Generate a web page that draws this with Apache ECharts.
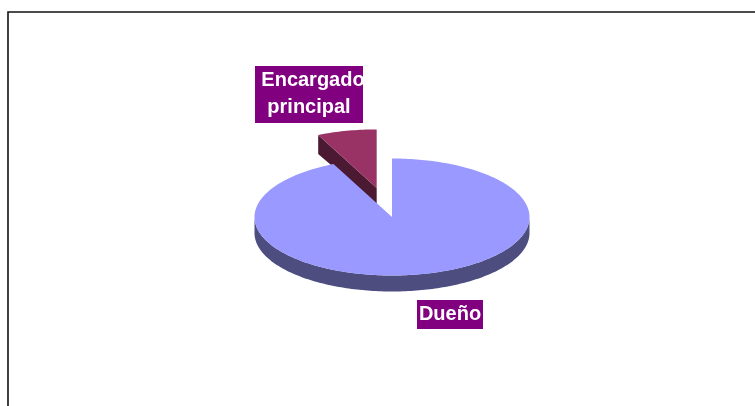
<!DOCTYPE html>
<html>
<head>
<meta charset="utf-8">
<style>
  html, body { margin: 0; padding: 0; background: #fff; }
  #main { width: 755px; height: 406px; }
</style>
<script src="https://cdn.jsdelivr.net/npm/echarts@6/dist/echarts.min.js"></script>
</head>
<body>
<div id="main"></div>
<script>
const categories = ['Dueño', 'Encargado\nprincipal']
const shareValues = [93, 7]
const topColors = ['#9999ff', '#993366']
const wallColors = ['#4d4d80', '#4c1933']
// the pulled out slice is painted first, it sits behind the big one
const paintOrder = [1, 0]

const total = shareValues.reduce((a, b) => a + b, 0)
const pie = { cx: 392, cy: 217, rx: 137.5, ry: 58.5, depth: 16 }
// explode as a fraction of the radius, per slice
const explode = [0, 0.51]
const labelBoxes = [
  { x: 417, y: 300, width: 66, height: 29, lines: [[450, 314]] },
  { x: 255, y: 66, width: 108, height: 57, lines: [[313, 80], [309, 107]] },
]

// clockwise from 12 o'clock, in radians
function sliceAngles (index) {
  const before = shareValues.slice(0, index).reduce((a, b) => a + b, 0)
  return [before, before + shareValues[index]].map((v) => (v / total) * Math.PI * 2)
}
function rimPoint (ox, oy, a) {
  return [ox + Math.sin(a) * pie.rx, oy - Math.cos(a) * pie.ry]
}
function arcPoints (ox, oy, from, to) {
  const steps = Math.max(2, Math.ceil(Math.abs(to - from) / 0.02))
  const pts = []
  for (let i = 0; i <= steps; i++) pts.push(rimPoint(ox, oy, from + ((to - from) * i) / steps))
  return pts
}

function renderItem (params, api) {
  const i = api.value(1)
  const [a0, a1] = sliceAngles(i)
  const mid = (a0 + a1) / 2
  const ox = pie.cx + Math.sin(mid) * pie.rx * explode[i]
  const oy = pie.cy - Math.cos(mid) * pie.ry * explode[i]
  const children = []

  // side wall: front part of the rim, pushed down by the depth
  const from = Math.max(a0, Math.PI / 2)
  const to = Math.min(a1, Math.PI * 1.5)
  if (from < to) {
    const upper = arcPoints(ox, oy, from, to)
    const lower = upper.map((p) => [p[0], p[1] + pie.depth]).reverse()
    children.push({
      type: 'polygon',
      shape: { points: upper.concat(lower) },
      style: { fill: wallColors[i] },
    })
  }
  // cut face that looks to the viewer when the slice is pulled out
  if (explode[i] > 0) {
    const rim = rimPoint(ox, oy, a0)
    children.push({
      type: 'polygon',
      shape: { points: [[ox, oy], rim, [rim[0], rim[1] + pie.depth + 3], [ox, oy + pie.depth]] },
      style: { fill: wallColors[i] },
    })
  }
  // top
  children.push({
    type: 'polygon',
    shape: { points: [[ox, oy]].concat(arcPoints(ox, oy, a0, a1)) },
    style: { fill: topColors[i] },
  })
  // label
  const box = labelBoxes[i]
  children.push({
    type: 'rect',
    shape: { x: box.x, y: box.y, width: box.width, height: box.height },
    style: { fill: '#800080' },
    z2: 10,
  })
  categories[i].split('\n').forEach((line, n) => {
    children.push({
      type: 'text',
      z2: 11,
      style: {
        x: box.lines[n][0],
        y: box.lines[n][1],
        text: line,
        fill: '#fff',
        font: 'bold 20px "Liberation Sans", Arial, sans-serif',
        align: 'center',
        verticalAlign: 'middle',
      },
    })
  })
  return { type: 'group', children }
}

const myChart = echarts.init(document.getElementById('main'), null, { renderer: 'canvas' })
myChart.setOption({
  animation: false,
  backgroundColor: '#fff',
  graphic: [
    {
      type: 'polyline',
      shape: { points: [[8, 406], [8, 12], [755, 12]] },
      style: { stroke: '#111', lineWidth: 1.6, fill: 'none' },
    },
  ],
  series: [
    {
      type: 'custom',
      coordinateSystem: 'none',
      renderItem,
      data: paintOrder.map((i) => ({ value: [shareValues[i], i], name: categories[i] })),
    },
  ],
})
</script>
</body>
</html>
